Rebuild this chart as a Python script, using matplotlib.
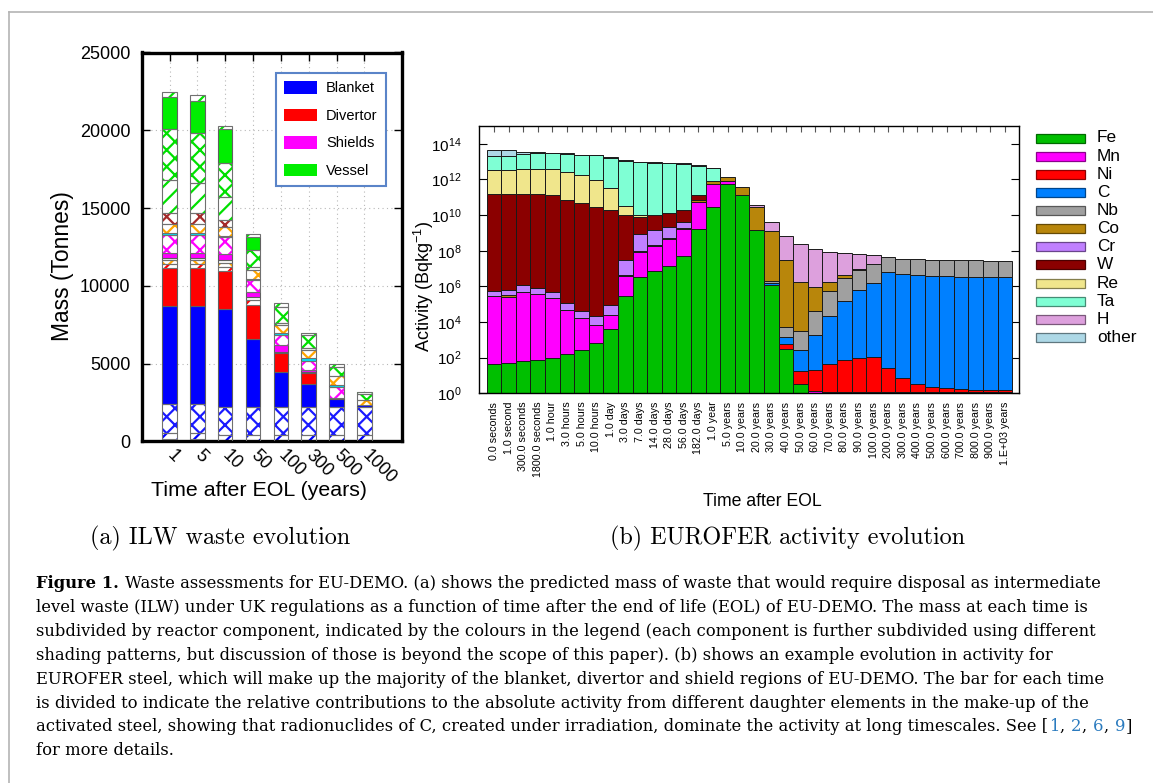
import matplotlib
matplotlib.use('Agg')
import matplotlib.pyplot as plt
import matplotlib.colors as mcolors
import numpy as np
from matplotlib.patches import Rectangle
from matplotlib.lines import Line2D
from matplotlib.ticker import NullLocator

# ---------------- data: (a) ILW waste mass (tonnes) ----------------
waste_times = ['1', '5', '10', '50', '100', '300', '500', '1000']
waste_layer_order = ['gray_bot', 'blue_sl', 'blue_x', 'blue', 'red', 'red_sl', 'orange_sx',
                     'gray_box', 'mag', 'mag_x', 'cyan', 'orange_x', 'brown_x', 'green_sl',
                     'green_x', 'green', 'green_top']
gray_bot  = [180, 180, 60, 60, 60, 60, 60, 0]
blue_sl   = [350, 350, 360, 360, 360, 360, 360, 420]
blue_x    = [1860, 1860, 1820, 1820, 1820, 1820, 1820, 1780]
blue      = [6320, 6320, 6300, 4350, 2245, 1435, 470, 150]
red       = [2460, 2460, 2440, 2185, 1180, 710, 0, 0]
red_sl    = [240, 240, 250, 320, 0, 0, 0, 0]
orange_sx = [257, 257, 250, 0, 0, 0, 0, 0]
gray_box  = [148, 148, 185, 210, 105, 60, 100, 0]
mag       = [320, 320, 365, 325, 430, 150, 0, 0]
mag_x     = [1140, 1140, 1135, 750, 645, 600, 710, 0]
cyan      = [108, 108, 65, 65, 110, 150, 110, 0]
orange_x  = [580, 580, 540, 580, 530, 535, 580, 320]
brown_x   = [707, 707, 470, 0, 0, 0, 0, 0]
green_sl  = [2140, 1920, 1495, 210, 110, 110, 0, 0]
green_x   = [3260, 3215, 2185, 1075, 1070, 855, 600, 385]
green     = [2095, 2100, 2145, 855, 0, 0, 0, 0]
green_top = [320, 370, 230, 170, 220, 150, 150, 125]
waste_layers = dict(gray_bot=gray_bot, blue_sl=blue_sl, blue_x=blue_x, blue=blue, red=red,
                    red_sl=red_sl, orange_sx=orange_sx, gray_box=gray_box, mag=mag, mag_x=mag_x,
                    cyan=cyan, orange_x=orange_x, brown_x=brown_x, green_sl=green_sl,
                    green_x=green_x, green=green, green_top=green_top)
component_labels = ['Blanket', 'Divertor', 'Shields', 'Vessel']

# ---------------- data: (b) EUROFER activity, log10(Bq/kg) per element ----------------
activity_times = ['0.0 seconds', '1.0 second', '300.0 seconds', '1800.0 seconds', '1.0 hour',
                  '3.0 hours', '5.0 hours', '10.0 hours', '1.0 day', '3.0 days', '7.0 days',
                  '14.0 days', '28.0 days', '56.0 days', '182.0 days', '1.0 year', '5.0 years',
                  '10.0 years', '20.0 years', '30.0 years', '40.0 years', '50.0 years',
                  '60.0 years', '70.0 years', '80.0 years', '90.0 years', '100.0 years',
                  '200.0 years', '300.0 years', '400.0 years', '500.0 years', '600.0 years',
                  '700.0 years', '800.0 years', '900.0 years', '1.E+03 years']
N = None
log_Fe = [1.66, 1.69, 1.81, 1.86, 1.96, 2.22, 2.42, 2.85, 3.62, 5.45, 6.53, 6.85, 7.17, 7.69,
          9.22, 10.45, 11.74, 11.14, 9.18, 6.10, 2.46, 0.50] + [N] * 14
log_Mn = [5.45, 5.41, 5.69, 5.56, 5.34, 4.66, 4.21, 3.77, 4.30, 6.52, 7.89, 8.23, 8.65, 9.23,
          10.70, 11.72, 11.48] + [N] * 5 + [0.13] + [0.10] * 13
log_Ni = [N] * 20 + [2.42, 1.20, 1.29, 1.61, 1.85, 1.99, 2.02, 1.39, 0.77, 0.34, 0.03, -0.22,
                     -0.40, -0.60, -0.60, -0.60]
log_C = [N] * 19 + [5.46, 2.97, 2.37, 3.255, 4.33, 5.19, 5.78, 6.19, 6.81, 6.70, 6.66, 6.57,
                    6.57, 6.53, 6.53, 6.53, 6.53]
log_Nb = [N] * 19 + [5.73, 3.59, 3.48, 4.61, 5.71, 6.45, 6.87, 7.20, 7.56, 7.49, 7.46, 7.42,
                     7.42, 7.42, 7.41, 7.37, 7.37]
log_Co = [N, 4.77, N, N, N, N, N, N, N, 5.79, 7.08, 7.61, 7.90, 8.22, 10.21, 11.48, 11.70,
          11.37, 10.43, 9.09, 7.46, 6.25, 5.95, 6.06, 6.21, 6.31] + [N] * 10
log_Cr = [5.41, 5.46, 5.82, 5.65, 5.43, 4.82, 4.39, 4.17, 4.85, 7.44, 8.89, 9.09, 9.20,
          9.34] + [N] * 22
log_W = [11.20, 11.16, 11.16, 11.20, 11.11, 10.86, 10.68, 10.45, 10.30, 10.02, 9.82, 9.91,
         10.02, 10.18, 10.85] + [N] * 21
log_Re = [12.49, 12.49, 12.56, 12.58, 12.565, 12.38, 12.23, 11.95, 11.49, 10.37, 9.49,
          8.96] + [N] * 24
log_Ta = [13.21, 13.21, 13.35, 13.45, 13.42, 13.40, 13.35, 13.33, 13.22, 13.05, 12.97, 12.95,
          12.94, 12.86, 12.76, 12.55] + [N] * 20
log_H = [N] * 18 + [9.91, 9.45, 8.83, 8.38, 8.12, 7.94, 7.84, 7.73, 7.60] + [N] * 9
log_other = [13.37, 13.37, 12.96, 12.18, 12.34, 12.10, 12.00, 11.90, 11.80, 11.70, 11.60,
             11.50, 11.30, 11.90, 11.70, 11.00] + [N] * 20
elements = ['Fe', 'Mn', 'Ni', 'C', 'Nb', 'Co', 'Cr', 'W', 'Re', 'Ta', 'H', 'other']
element_logs = dict(Fe=log_Fe, Mn=log_Mn, Ni=log_Ni, C=log_C, Nb=log_Nb, Co=log_Co, Cr=log_Cr,
                    W=log_W, Re=log_Re, Ta=log_Ta, H=log_H, other=log_other)

# ---------------- styles ----------------
plt.rcParams['font.family'] = ['Liberation Sans', 'DejaVu Sans']
plt.rcParams['mathtext.fontset'] = 'custom'
plt.rcParams['mathtext.rm'] = 'Liberation Sans'
plt.rcParams['mathtext.it'] = 'Liberation Sans:italic'
plt.rcParams['mathtext.bf'] = 'Liberation Sans:bold'
plt.rcParams['hatch.linewidth'] = 1.6

layer_style = {  # (facecolor, hatchcolor, hatch)
    'gray_bot': ('#a8a8a8', None, None), 'blue_sl': ('white', '#0000ff', '//'),
    'blue_x': ('white', '#1a1aff', 'xx'), 'blue': ('#0000ff', None, None),
    'red': ('#ff0000', None, None), 'red_sl': ('white', '#ff0000', '//'),
    'orange_sx': ('white', '#ffa500', 'xx'), 'gray_box': ('white', None, None),
    'mag': ('#ff00ff', None, None), 'mag_x': ('white', '#ff00ff', 'xx'),
    'cyan': ('#00e5ff', None, None), 'orange_x': ('white', '#ffa500', 'xx'),
    'brown_x': ('white', '#a52a2a', 'xx'), 'green_sl': ('white', '#00e000', '//'),
    'green_x': ('white', '#00e000', 'xx'), 'green': ('#00ee00', None, None),
    'green_top': ('white', '#00e000', '//'),
}
component_colors = ['#0000ff', '#ff0000', '#ff00ff', '#00ee00']
element_colors = dict(Fe='#00bf00', Mn='#ff00ff', Ni='#ff0000', C='#0080ff', Nb='#a0a0a0',
                      Co='#b8860b', Cr='#c080ff', W='#8b0000', Re='#f0e68c', Ta='#7fffd4',
                      H='#dda0dd', other='#add8e6')

W_PX, H_PX = 1153, 783
fig = plt.figure(figsize=(W_PX / 100, H_PX / 100), dpi=100)


def fx(px):
    return px / W_PX


def fy(py):
    return 1 - py / H_PX


def axes_rect(x0, y0, x1, y1):
    return [fx(x0), fy(y1), fx(x1) - fx(x0), fy(y0) - fy(y1)]


# ---------------- panel (a) ----------------
axL = fig.add_axes(axes_rect(141.7, 52.5, 402, 441.5))
xa = np.arange(len(waste_times))
bw = 0.52
bottom = np.zeros(len(waste_times))
for name in waste_layer_order:
    vals = np.array(waste_layers[name], float)
    m = vals > 0
    fc, hc, hatch = layer_style[name]
    if hatch:
        axL.bar(xa[m], vals[m], bw, bottom=bottom[m], facecolor='white', edgecolor=hc,
                hatch=hatch, linewidth=0, zorder=2)
        axL.bar(xa[m], vals[m], bw, bottom=bottom[m], facecolor='none', edgecolor='#707070',
                linewidth=0.8, zorder=3)
    else:
        axL.bar(xa[m], vals[m], bw, bottom=bottom[m], facecolor=fc, edgecolor='#606060',
                linewidth=0.8, zorder=2)
    bottom += vals

axL.set_xlim(-1.0, 8.35)
axL.set_ylim(0, 25000)
axL.set_yticks(np.arange(0, 25001, 5000))
axL.set_xticks(xa, waste_times, rotation=-45, ha='left', va='center', rotation_mode='anchor')
axL.tick_params(axis='both', direction='in', length=6, width=1.0, top=True, right=True,
                labelsize=13)
axL.tick_params(axis='y', pad=8)
axL.tick_params(axis='x', pad=8.5)
axL.grid(True, linestyle=(0, (1, 3)), color='#b8b8b8', linewidth=0.8)
axL.set_axisbelow(True)
for sp in axL.spines.values():
    sp.set_linewidth(2.4)
axL.set_ylabel('Mass (Tonnes)', fontsize=16.4)
axL.yaxis.set_label_coords(-0.306, 0.451)
axL.yaxis.label.set_va('center')
axL.set_xlabel('Time after EOL (years)', fontsize=15.4)
axL.xaxis.set_label_coords(0.449, -0.125)
axL.xaxis.label.set_va('center')

handles = [Rectangle((0, 0), 1, 1, facecolor=c, edgecolor='none') for c in component_colors]
leg = axL.legend(handles, component_labels, loc='upper left', bbox_to_anchor=(0.516, 0.947),
                 borderaxespad=0, fontsize=10.5, handlelength=2.26, handleheight=0.96,
                 labelspacing=0.9, handletextpad=0.62, borderpad=0.55, fancybox=False,
                 framealpha=1, edgecolor='#5a84c8')
leg.get_frame().set_linewidth(1.5)
leg.set_zorder(5)

# ---------------- panel (b) ----------------
axR = fig.add_axes(axes_rect(479.3, 126, 1019, 393.3))
axR.set_yscale('log')
xb = np.arange(len(activity_times))
cum = np.zeros(len(activity_times))
for el in elements:
    vals = np.array([10.0 ** v if v is not None else 0.0 for v in element_logs[el]])
    m = vals > 0
    axR.bar(xb[m], vals[m], 1.0, bottom=cum[m], facecolor=element_colors[el],
            edgecolor='#1a1a1a', linewidth=0.7, zorder=2)
    cum += vals
axR.set_xlim(-1.0, 35.96)
axR.set_ylim(1, 1e15)
axR.set_yticks([10.0 ** k for k in range(0, 15, 2)],
               [r'$10^{%d}$' % k for k in range(0, 15, 2)])
axR.yaxis.set_minor_locator(NullLocator())
axR.tick_params(axis='y', direction='in', length=6, width=0.8, right=True, labelsize=11,
                pad=13)
axR.set_xticks(xb, activity_times, rotation=90, fontsize=7.7)
axR.tick_params(axis='x', direction='in', length=4, width=0.8, top=True, bottom=True,
                color='#555555', pad=6)
for sp in axR.spines.values():
    sp.set_linewidth(1.0)
axR.set_ylabel('Activity (Bqkg$^{-1}$)', fontsize=13)
axR.yaxis.set_label_coords(-0.103, 0.401)
axR.yaxis.label.set_va('center')
axR.set_xlabel('Time after EOL', fontsize=12.7)
axR.xaxis.set_label_coords(0.524, -0.403)
axR.xaxis.label.set_va('center')

# legend of panel (b)
for i, el in enumerate(elements):
    yc = 138.0 + 18.14 * i
    c = np.array(mcolors.to_rgb(element_colors[el]))
    fig.patches.append(Rectangle((fx(1036), fy(yc + 4.5)), fx(1085) - fx(1036), 9 / H_PX,
                                 transform=fig.transFigure, facecolor=element_colors[el],
                                 edgecolor=tuple(c * 0.55), linewidth=0.9))
    fig.text(fx(1097), fy(yc), el, fontsize=12.4, ha='left', va='center')

# ---------------- sub-captions ----------------
fig.text(fx(220.5), fy(538), '(a) ILW waste evolution', family='cmr10', fontsize=17.4,
         ha='center', va='center')
fig.text(fx(787.5), fy(538), '(b) EUROFER activity evolution', family='cmr10',
         fontsize=17.4, ha='center', va='center')

# ---------------- caption ----------------
renderer = fig.canvas.get_renderer()
cap_font = dict(family=['DejaVu Serif'], fontsize=11.8)
blue_ref = '#2b7bbf'


def text_width(s, **kw):
    t = fig.text(0, 0, s, **kw)
    w = t.get_window_extent(renderer=renderer).width
    t.remove()
    return w


space_w = text_width('x x', **cap_font) - text_width('xx', **cap_font)

caption_lines = [
    [('Figure 1.', 'k', 'bold'), (' ',),
     ('Waste assessments for EU-DEMO. (a) shows the predicted mass of waste that would require disposal as intermediate', 'k', 'normal')],
    [('level waste (ILW) under UK regulations as a function of time after the end of life (EOL) of EU-DEMO. The mass at each time is', 'k', 'normal')],
    [('subdivided by reactor component, indicated by the colours in the legend (each component is further subdivided using different', 'k', 'normal')],
    [('shading patterns, but discussion of those is beyond the scope of this paper). (b) shows an example evolution in activity for', 'k', 'normal')],
    [('EUROFER steel, which will make up the majority of the blanket, divertor and shield regions of EU-DEMO. The bar for each time', 'k', 'normal')],
    [('is divided to indicate the relative contributions to the absolute activity from different daughter elements in the make-up of the', 'k', 'normal')],
    [('activated steel, showing that radionuclides of C, created under irradiation, dominate the activity at long timescales. See [', 'k', 'normal'),
     ('1', blue_ref, 'normal'), (',', 'k', 'normal'), (' ',), ('2', blue_ref, 'normal'),
     (',', 'k', 'normal'), (' ',), ('6', blue_ref, 'normal'), (',', 'k', 'normal'), (' ',),
     ('9', blue_ref, 'normal'), (']', 'k', 'normal')],
    [('for more details.', 'k', 'normal')],
]
for i, runs in enumerate(caption_lines):
    ybase = 588.5 + 23.8 * i
    xpx = 36.0
    for run in runs:
        if len(run) == 1:
            xpx += space_w
            continue
        s, col, wt = run
        t = fig.text(fx(xpx), fy(ybase), s, color=col, weight=wt, ha='left', va='baseline',
                     **cap_font)
        xpx += t.get_window_extent(renderer=renderer).width + 0.6

# ---------------- page frame lines ----------------
fig.add_artist(Line2D([fx(8.5), 1.0], [fy(11.7), fy(11.7)], transform=fig.transFigure,
                      color='#b4b4b4', linewidth=1.2))
fig.add_artist(Line2D([fx(8.5), fx(8.5)], [fy(11.7), 0.0], transform=fig.transFigure,
                      color='#b4b4b4', linewidth=1.2))

fig.savefig('out.png', dpi=100)
